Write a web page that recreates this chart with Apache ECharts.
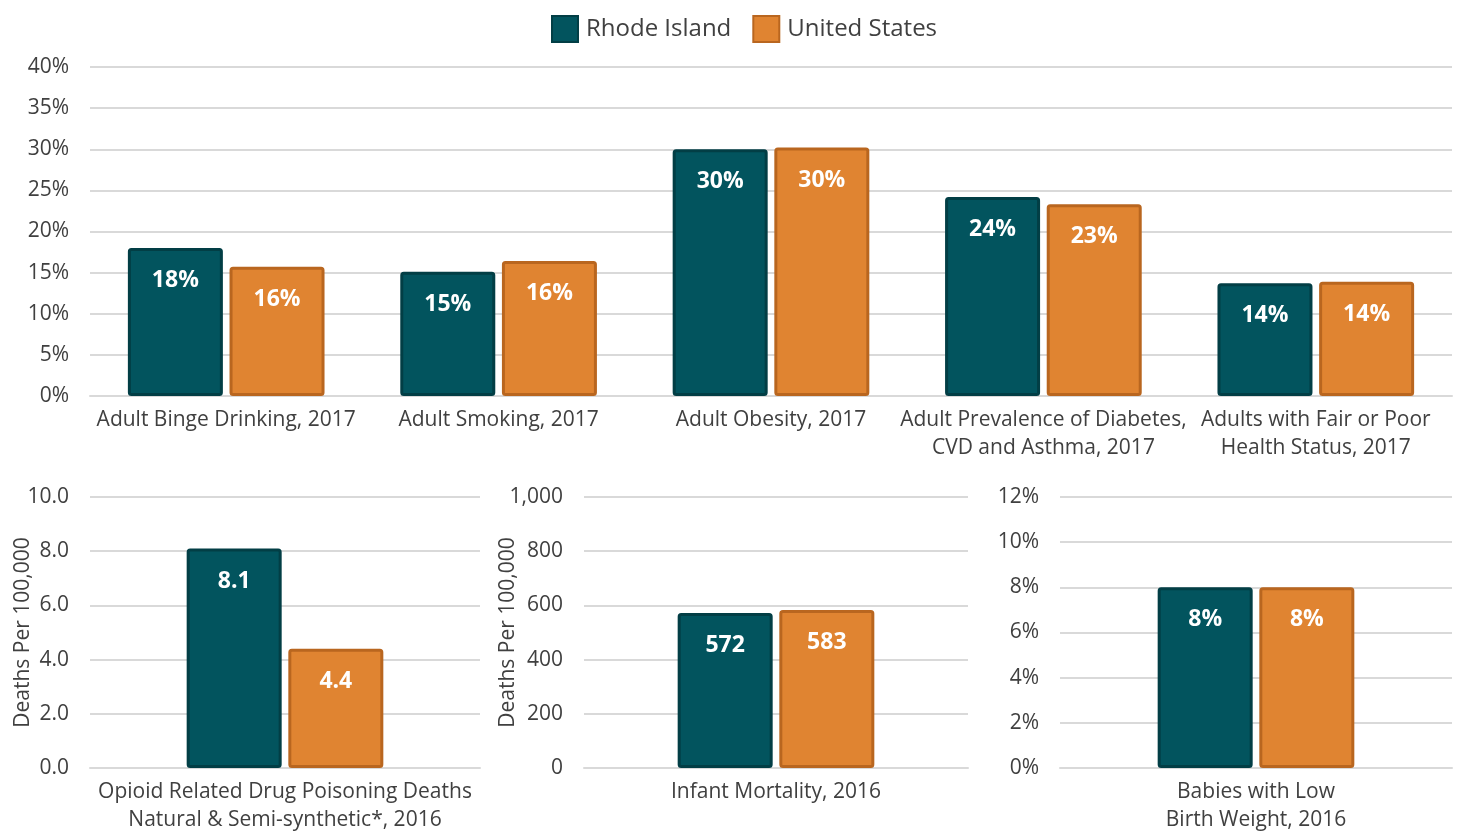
<!DOCTYPE html>
<html><head><meta charset="utf-8">
<script src="https://cdn.jsdelivr.net/npm/echarts@6/dist/echarts.min.js"></script>
<style>html,body{margin:0;padding:0;background:#fff}#c{width:1459px;height:831px}</style>
</head><body><div id="c"></div>
<script>
// ---- data ----
const topCategories = ['Adult Binge Drinking, 2017', 'Adult Smoking, 2017', 'Adult Obesity, 2017', 'Adult Prevalence of Diabetes,\nCVD and Asthma, 2017', 'Adults with Fair or Poor\nHealth Status, 2017'];
const topRI = [18.0, 15.1, 30.0, 24.2, 13.7];
const topUS = [15.7, 16.4, 30.2, 23.3, 13.9];

const opioidCategory = ['Opioid Related Drug Poisoning Deaths\nNatural & Semi-synthetic*, 2016'];
const opioidRI = [8.1];
const opioidUS = [4.4];

const infantCategory = ['Infant Mortality, 2016'];
const infantRI = [572];
const infantUS = [583];

const lbwCategory = ['Babies with Low\nBirth Weight, 2016'];
const lbwRI = [8.0];
const lbwUS = [8.0];

const seriesNames = ['Rhode Island', 'United States'];
// ---- styles ----
const FONT = 'Open Sans';
const TXT = '#404040';
const GRID = '#d9d9d9';
const RI_FILL = '#02545e', RI_BORDER = '#023e45';
const US_FILL = '#e08431', US_BORDER = '#b9661f';

const chart = echarts.init(document.getElementById('c'));

function xAxis(i, cats) {
  return {
    type: 'category', gridIndex: i, data: cats,
    axisLine: {show: true, lineStyle: {color: GRID, width: 2}},
    axisTick: {show: false},
    axisLabel: {color: TXT, fontFamily: FONT, fontSize: 21, lineHeight: 28, margin: 10, interval: 0}
  };
}
function yAxis(i, max, interval, fmt, name, gap) {
  return {
    type: 'value', gridIndex: i, min: 0, max: max, interval: interval,
    name: name || '', nameLocation: 'middle', nameGap: gap || 60, nameMoveOverlap: false,
    nameTextStyle: {color: TXT, fontFamily: FONT, fontSize: 21},
    axisLine: {show: false}, axisTick: {show: false},
    axisLabel: {color: TXT, fontFamily: FONT, fontSize: 21, margin: 21, formatter: fmt},
    splitLine: {lineStyle: {color: GRID, width: 2}}
  };
}
function bar(name, i, data, fill, border, fmt) {
  return {
    name: name, type: 'bar', xAxisIndex: i, yAxisIndex: i, data: data,
    barWidth: 95, barGap: '7%',
    itemStyle: {color: fill, borderColor: border, borderWidth: 3, borderRadius: 2},
    label: {show: true, position: 'insideTop', distance: 21, color: '#fff',
      fontFamily: FONT, fontWeight: 'bold', fontSize: 23, formatter: fmt}
  };
}
const pct = p => Math.round(p.value) + '%';
const one = p => p.value.toFixed(1);
const int = p => String(Math.round(p.value));

const gridBase = {outerBoundsMode: 'none', containLabel: false};

chart.setOption({
  animation: false,
  legend: {
    data: seriesNames, top: 10, left: 546, itemWidth: 26, itemHeight: 26, itemGap: 21,
    icon: 'rect',
    textStyle: {color: TXT, fontFamily: FONT, fontSize: 24, padding: [0, 0, 0, 3]}
  },
  grid: [
    Object.assign({left: 90, right: 7, top: 67, height: 329}, gridBase),
    Object.assign({left: 90, width: 390, top: 497, height: 271}, gridBase),
    Object.assign({left: 584, width: 384, top: 497, height: 271}, gridBase),
    Object.assign({left: 1060, width: 392, top: 497, height: 271}, gridBase)
  ],
  xAxis: [xAxis(0, topCategories), xAxis(1, opioidCategory), xAxis(2, infantCategory), xAxis(3, lbwCategory)],
  yAxis: [
    yAxis(0, 40, 5, v => v + '%'),
    yAxis(1, 10, 2, v => v.toFixed(1), 'Deaths Per 100,000', 56),
    yAxis(2, 1000, 200, v => v.toLocaleString('en-US'), 'Deaths Per 100,000', 65),
    yAxis(3, 12, 2, v => v + '%')
  ],
  series: [
    bar(seriesNames[0], 0, topRI, RI_FILL, RI_BORDER, pct),
    bar(seriesNames[1], 0, topUS, US_FILL, US_BORDER, pct),
    bar(seriesNames[0], 1, opioidRI, RI_FILL, RI_BORDER, one),
    bar(seriesNames[1], 1, opioidUS, US_FILL, US_BORDER, one),
    bar(seriesNames[0], 2, infantRI, RI_FILL, RI_BORDER, int),
    bar(seriesNames[1], 2, infantUS, US_FILL, US_BORDER, int),
    bar(seriesNames[0], 3, lbwRI, RI_FILL, RI_BORDER, pct),
    bar(seriesNames[1], 3, lbwUS, US_FILL, US_BORDER, pct)
  ]
});
</script></body></html>
